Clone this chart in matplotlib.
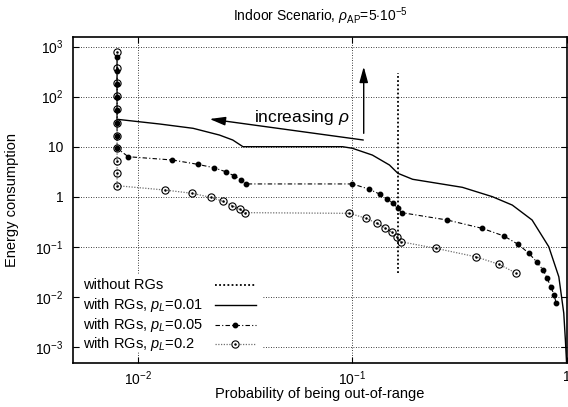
import matplotlib
matplotlib.use('Agg')
import matplotlib.pyplot as plt
from matplotlib.patches import Rectangle
from matplotlib.ticker import FixedLocator, FixedFormatter, NullLocator
import numpy as np

plt.rcParams['font.family'] = ['Liberation Sans', 'DejaVu Sans']
plt.rcParams['mathtext.fontset'] = 'custom'
plt.rcParams['mathtext.rm'] = 'Liberation Sans'
plt.rcParams['mathtext.it'] = 'Liberation Sans:italic'
plt.rcParams['mathtext.bf'] = 'Liberation Sans:bold'
plt.rcParams['mathtext.sf'] = 'Liberation Sans'

# 不带RG: 一条竖线
norg_x = [0.163, 0.163]
norg_y = [0.0294, 294]

# p_L = 0.01
p01_x = [0.008, 0.008, 0.01265, 0.0181, 0.024, 0.0277, 0.0309, 0.090, 0.1, 0.124,
         0.149, 0.163, 0.191, 0.326, 0.45, 0.557, 0.689, 0.824, 0.918, 0.968,
         0.985, 0.997]
p01_y = [650, 35.3, 28.4, 23.3, 17.1, 13.6, 10, 10, 9.3, 6.8,
         4.3, 2.94, 2.23, 1.54, 1.0, 0.68, 0.342, 0.1, 0.025, 0.0047,
         0.00135, 0.0005]

# p_L = 0.05 (带点)
p05_x = [0.008, 0.008, 0.008, 0.008, 0.008, 0.008, 0.008, 0.008,
         0.00902, 0.0145, 0.019, 0.0226, 0.0257, 0.0282, 0.0303, 0.032,
         0.1, 0.119, 0.134, 0.145, 0.155, 0.163, 0.170, 0.277, 0.403,
         0.509, 0.592, 0.666, 0.723, 0.776, 0.81, 0.845, 0.873, 0.892]
p05_y = [631, 327, 178, 98, 54.2, 30.2, 16.6, 9.3,
         6.3, 5.42, 4.44, 3.8, 3.16, 2.6, 2.16, 1.8,
         1.8, 1.43, 1.13, 0.91, 0.74, 0.585, 0.48, 0.342, 0.233,
         0.164, 0.112, 0.074, 0.05, 0.034, 0.0233, 0.0154, 0.0108, 0.0074]

# p_L = 0.2 (空心圆)
p2_x = [0.008] * 11 + [0.01337, 0.0179, 0.0219, 0.0249, 0.0276, 0.0298, 0.0316,
                       0.097, 0.116, 0.130, 0.142, 0.153, 0.161, 0.168,
                       0.245, 0.376, 0.483, 0.577]
p2_y = [794, 380, 191, 103, 55.7, 30.2, 16.3, 9.3, 5.25, 2.94, 1.66,
        1.36, 1.17, 0.97, 0.81, 0.66, 0.56, 0.48,
        0.465, 0.37, 0.294, 0.24, 0.194, 0.158, 0.126,
        0.093, 0.063, 0.0445, 0.030]

labels = ['without RGs', r'with RGs, $p_L$=0.01',
          r'with RGs, $p_L$=0.05', r'with RGs, $p_L$=0.2']

x_ticks = [1e-2, 1e-1, 1]
x_ticklabels = [r'$10^{-2}$', r'$10^{-1}$', '1']
y_ticks = [1e-3, 1e-2, 1e-1, 1, 10, 1e2, 1e3]
y_ticklabels = [r'$10^{-3}$', r'$10^{-2}$', r'$10^{-1}$', '1', '10',
                r'$10^{2}$', r'$10^{3}$']

# 箭头 (头, 尾)
arrow_left = ((0.0216, 35.8), (0.1125, 13.6))
arrow_up = ((0.113, 398), (0.113, 18.5))

fig = plt.figure(figsize=(5.68, 4.07), dpi=100)
ax = fig.add_axes([73.3 / 568, 1 - 362.7 / 407, (566.8 - 73.3) / 568, (362.7 - 37) / 407])
ax.set_xscale('log')
ax.set_yscale('log')
ax.set_xlim(0.005, 1)
ax.set_ylim(4.8e-4, 1560)

ax.plot(norg_x, norg_y, color='k', lw=1.3, ls=(0, (1, 1.3)), zorder=3)
ax.plot(p01_x, p01_y, color='k', lw=1.0, zorder=3)
ax.plot(p05_x, p05_y, color='k', lw=0.8, ls=(0, (4, 2, 1, 2)), zorder=3)
ax.plot(p05_x, p05_y, ls='none', marker='o', ms=3.2, mfc='k', mec='k', zorder=4)
ax.plot(p2_x, p2_y, color='#707070', lw=0.9, ls=(0, (1, 1.2)), zorder=3)
ax.plot(p2_x, p2_y, ls='none', marker='o', ms=5.2, mfc='none', mec='k', mew=0.8, zorder=4)
ax.plot(p2_x, p2_y, ls='none', marker='o', ms=0.8, mfc='k', mec='k', zorder=4)

for head, tail in (arrow_left, arrow_up):
    ax.annotate('', xy=head, xytext=tail,
                arrowprops=dict(arrowstyle='-|>,head_length=0.95,head_width=0.26',
                                color='k', lw=1.0, shrinkA=0, shrinkB=0),
                zorder=5)
ax.text(0.0968, 31.6, r'increasing $\rho$', ha='right', va='baseline', fontsize=12.5)

ax.xaxis.set_major_locator(FixedLocator(x_ticks))
ax.xaxis.set_major_formatter(FixedFormatter(x_ticklabels))
ax.xaxis.set_minor_locator(NullLocator())
ax.yaxis.set_major_locator(FixedLocator(y_ticks))
ax.yaxis.set_major_formatter(FixedFormatter(y_ticklabels))
ax.yaxis.set_minor_locator(NullLocator())
ax.tick_params(direction='in', length=4, width=0.8, labelsize=10, top=True, right=True)
ax.tick_params(axis='x', pad=5)
ax.tick_params(axis='y', pad=7)
ax.grid(True, color='k', lw=0.6, ls=(0, (1, 2)))
for s in ax.spines.values():
    s.set_linewidth(1.2)

# 图例 (gnuplot 风格: 文字在左, 样例在右)
ax.add_patch(Rectangle((0.0136, 0.033), 0.368, 0.237, transform=ax.transAxes,
                       facecolor='white', edgecolor='none', zorder=2))
leg_y = [0.239, 0.177, 0.117, 0.0575]
sx0, sx1, sxm = 0.288, 0.371, 0.328
for i, lab in enumerate(labels):
    ax.text(0.0196, leg_y[i], lab, transform=ax.transAxes, ha='left', va='center',
            fontsize=10.5, zorder=6)
ax.plot([sx0, sx1], [leg_y[0]] * 2, transform=ax.transAxes, color='k', lw=1.3,
        ls=(0, (1, 1.3)), zorder=6)
ax.plot([sx0, sx1], [leg_y[1]] * 2, transform=ax.transAxes, color='k', lw=1.0, zorder=6)
ax.plot([sx0, sx1], [leg_y[2]] * 2, transform=ax.transAxes, color='k', lw=0.8,
        ls=(0, (4, 2, 1, 2)), zorder=6)
ax.plot([sxm], [leg_y[2]], transform=ax.transAxes, marker='o', ms=3.2, color='k', zorder=6)
ax.plot([sx0, sx1], [leg_y[3]] * 2, transform=ax.transAxes, color='#707070', lw=0.9,
        ls=(0, (1, 1.2)), zorder=6)
ax.plot([sxm], [leg_y[3]], transform=ax.transAxes, marker='o', ms=5.2, mfc='white',
        mec='k', mew=0.8, zorder=7)
ax.plot([sxm], [leg_y[3]], transform=ax.transAxes, marker='o', ms=0.8, color='k', zorder=7)

ax.set_xlabel('Probability of being out-of-range', fontsize=10.5)
ax.xaxis.set_label_coords(0.5, -0.096)
ax.xaxis.label.set_va('center')
ax.set_ylabel('Energy consumption', fontsize=10.5)
ax.yaxis.set_label_coords(-0.124, 0.5)
ax.yaxis.label.set_va('center')

fig.text(320 / 568, 1 - 16 / 407, r'Indoor Scenario, $\rho_{\mathrm{AP}}$=5$\cdot$10$^{-5}$',
         ha='center', va='center', fontsize=10)

fig.savefig('out.png', dpi=100)
